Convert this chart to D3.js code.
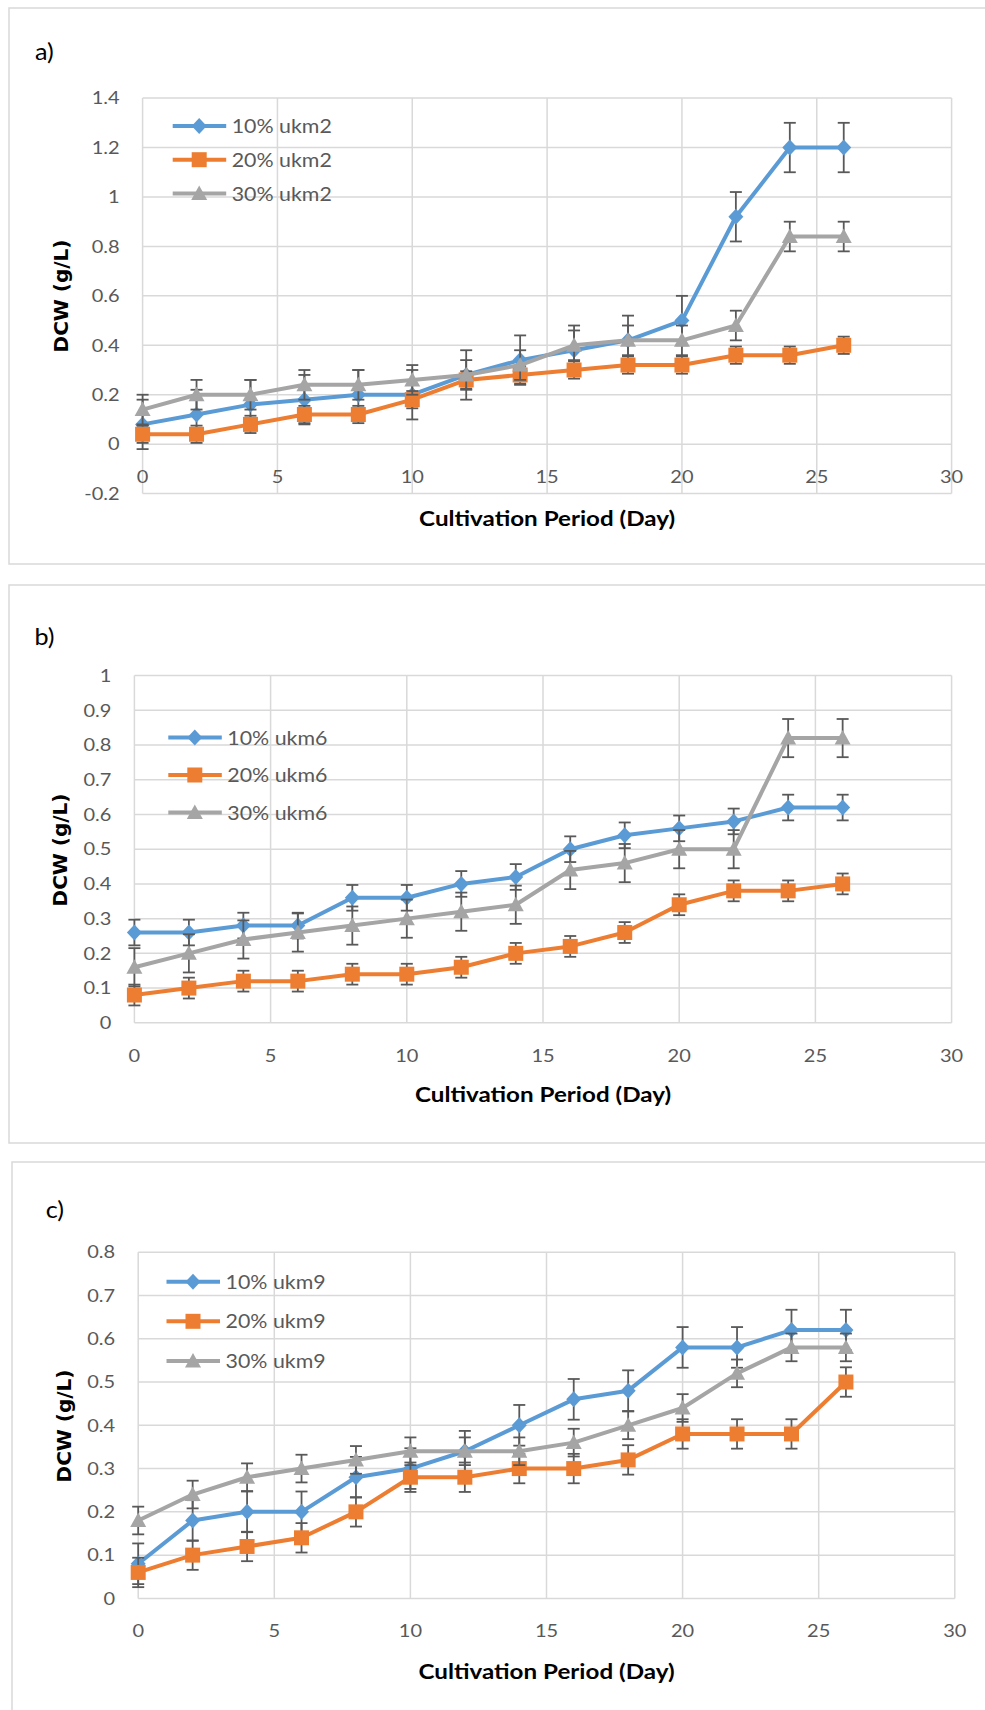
<!DOCTYPE html>
<html>
<head>
<meta charset="utf-8">
<script src="https://cdn.jsdelivr.net/npm/d3@7"></script>
<style>
  body { margin: 0; background: #fff; }
  svg { display: block; }
</style>
</head>
<body>
<div id="parent"></div>
<script>
const days = [0, 2, 4, 6, 8, 10, 12, 14, 16, 18, 20, 22, 24, 26];
const xTicks = [0, 5, 10, 15, 20, 25, 30];

// a) ukm2
const ukm2Names = ["10% ukm2", "20% ukm2", "30% ukm2"];
const ukm2_10 = [0.08, 0.12, 0.16, 0.18, 0.20, 0.20, 0.28, 0.34, 0.38, 0.42, 0.50, 0.92, 1.20, 1.20];
const ukm2_20 = [0.04, 0.04, 0.08, 0.12, 0.12, 0.18, 0.26, 0.28, 0.30, 0.32, 0.32, 0.36, 0.36, 0.40];
const ukm2_30 = [0.14, 0.20, 0.20, 0.24, 0.24, 0.26, 0.28, 0.32, 0.40, 0.42, 0.42, 0.48, 0.84, 0.84];
const ukm2Err = [0.10, 0.035, 0.06];
const ukm2YTicks = [-0.2, 0, 0.2, 0.4, 0.6, 0.8, 1, 1.2, 1.4];

// b) ukm6
const ukm6Names = ["10% ukm6", "20% ukm6", "30% ukm6"];
const ukm6_10 = [0.26, 0.26, 0.28, 0.28, 0.36, 0.36, 0.40, 0.42, 0.50, 0.54, 0.56, 0.58, 0.62, 0.62];
const ukm6_20 = [0.08, 0.10, 0.12, 0.12, 0.14, 0.14, 0.16, 0.20, 0.22, 0.26, 0.34, 0.38, 0.38, 0.40];
const ukm6_30 = [0.16, 0.20, 0.24, 0.26, 0.28, 0.30, 0.32, 0.34, 0.44, 0.46, 0.50, 0.50, 0.82, 0.82];
const ukm6Err = [0.037, 0.03, 0.055];
const ukm6YTicks = [0, 0.1, 0.2, 0.3, 0.4, 0.5, 0.6, 0.7, 0.8, 0.9, 1];

// c) ukm9
const ukm9Names = ["10% ukm9", "20% ukm9", "30% ukm9"];
const ukm9_10 = [0.08, 0.18, 0.20, 0.20, 0.28, 0.30, 0.34, 0.40, 0.46, 0.48, 0.58, 0.58, 0.62, 0.62];
const ukm9_20 = [0.06, 0.10, 0.12, 0.14, 0.20, 0.28, 0.28, 0.30, 0.30, 0.32, 0.38, 0.38, 0.38, 0.50];
const ukm9_30 = [0.18, 0.24, 0.28, 0.30, 0.32, 0.34, 0.34, 0.34, 0.36, 0.40, 0.44, 0.52, 0.58, 0.58];
const ukm9Err = [0.047, 0.034, 0.032];
const ukm9YTicks = [0, 0.1, 0.2, 0.3, 0.4, 0.5, 0.6, 0.7, 0.8];

const colors = ["#5B9BD5", "#ED7D31", "#A5A5A5"];
const shapes = ["diamond", "square", "triangle"];
const grid = "#D9D9D9";
const txt = "#595959";

const panels = [
  { tag: "a)", names: ukm2Names, series: [ukm2_10, ukm2_20, ukm2_30], err: ukm2Err, yTicks: ukm2YTicks,
    frame: [9, 8, 1000, 556], plot: { l: 142.6, r: 951.6, t: 98.1, b: 493.6 },
    tagPos: [35, 60], yTitle: [61, 296], xTitleY: 518, legend: { x: 172.7, y: 126, dy: 33.7 } },
  { tag: "b)", names: ukm6Names, series: [ukm6_10, ukm6_20, ukm6_30], err: ukm6Err, yTicks: ukm6YTicks,
    frame: [9, 585, 1000, 558], plot: { l: 134.4, r: 951.6, t: 675.6, b: 1022.8 },
    tagPos: [34.5, 644.5], yTitle: [60, 850], xTitleY: 1094, legend: { x: 168.3, y: 737.4, dy: 37.6 } },
  { tag: "c)", names: ukm9Names, series: [ukm9_10, ukm9_20, ukm9_30], err: ukm9Err, yTicks: ukm9YTicks,
    frame: [12, 1162, 1000, 600], plot: { l: 138.2, r: 954.8, t: 1252.2, b: 1598.4 },
    tagPos: [45.7, 1218], yTitle: [63.5, 1426], xTitleY: 1671, legend: { x: 166.5, y: 1281.7, dy: 39.6 } }
];

const svg = d3.select("#parent").append("svg").attr("width", 985).attr("height", 1710);
svg.append("rect").attr("width", 985).attr("height", 1710).attr("fill", "#fff");

function markerPath(shape) {
  if (shape == "diamond") return "M0,-8L7.5,0L0,8L-7.5,0Z";
  if (shape == "square") return "M-7.5,-7.5H7.5V7.5H-7.5Z";
  return "M0,-8L8,6.5H-8Z";
}

// Lato text, widened a bit to look like the stretched Calibri of the original
function label(g, x, y, str, size, anchor, weight, color, k) {
  return g.append("text")
    .attr("transform", `translate(${x},${y}) scale(${k || 1.15},1)`)
    .attr("text-anchor", anchor)
    .attr("dy", "0.36em")
    .style("font-family", "Lato, 'Open Sans', sans-serif")
    .style("font-size", size + "px")
    .style("font-weight", weight || 400)
    .style("fill", color || txt)
    .text(str);
}

function fmt(v) { return String(+v.toFixed(1)); }

function drawPanel(p) {
  const g = svg.append("g");
  g.append("rect")
    .attr("x", p.frame[0]).attr("y", p.frame[1]).attr("width", p.frame[2]).attr("height", p.frame[3])
    .attr("fill", "none").attr("stroke", grid).attr("stroke-width", 1.5);

  const x = d3.scaleLinear().domain([0, 30]).range([p.plot.l, p.plot.r]);
  const y = d3.scaleLinear().domain(d3.extent(p.yTicks)).range([p.plot.b, p.plot.t]);

  // gridlines
  g.append("g").selectAll("line").data(p.yTicks).enter().append("line")
    .attr("x1", p.plot.l).attr("x2", p.plot.r)
    .attr("y1", d => y(d)).attr("y2", d => y(d))
    .attr("stroke", grid).attr("stroke-width", 1.5);
  g.append("g").selectAll("line").data(xTicks).enter().append("line")
    .attr("x1", d => x(d)).attr("x2", d => x(d))
    .attr("y1", p.plot.t).attr("y2", p.plot.b)
    .attr("stroke", grid).attr("stroke-width", 1.5);

  // tick labels
  p.yTicks.forEach(t => label(g, p.plot.l - 23, y(t), fmt(t), 17.4, "end"));
  xTicks.forEach(t => label(g, x(t), y(0) + 32.5, String(t), 17.4, "middle"));

  // titles
  label(g, (p.plot.l + p.plot.r) / 2, p.xTitleY, "Cultivation Period (Day)", 21.6, "middle", 700, "#000", 1.12);
  g.append("text")
    .attr("transform", `translate(${p.yTitle[0]},${p.yTitle[1]}) rotate(-90)`)
    .attr("text-anchor", "middle").attr("dy", "0.36em")
    .style("font-family", "'DejaVu Sans', Verdana, sans-serif")
    .style("font-size", "20px").style("font-weight", 700).style("fill", "#000")
    .text("DCW (g/L)");
  g.append("text")
    .attr("transform", `translate(${p.tagPos[0]},${p.tagPos[1]}) scale(1.05,1)`)
    .style("font-family", "Lato, sans-serif").style("font-size", "24px").style("fill", "#000")
    .text(p.tag);

  const line = d3.line().x((d, i) => x(days[i])).y(d => y(d));

  p.series.forEach((vals, s) => {
    const sg = g.append("g");
    const e = p.err[s];
    const bars = sg.append("g").selectAll("g").data(vals).enter().append("g")
      .attr("stroke", "#595959").attr("stroke-width", 1.8);
    bars.append("line")
      .attr("x1", (d, i) => x(days[i])).attr("x2", (d, i) => x(days[i]))
      .attr("y1", d => y(d - e)).attr("y2", d => y(d + e));
    bars.append("line")
      .attr("x1", (d, i) => x(days[i]) - 6).attr("x2", (d, i) => x(days[i]) + 6)
      .attr("y1", d => y(d + e)).attr("y2", d => y(d + e));
    bars.append("line")
      .attr("x1", (d, i) => x(days[i]) - 6).attr("x2", (d, i) => x(days[i]) + 6)
      .attr("y1", d => y(d - e)).attr("y2", d => y(d - e));

    sg.append("path").datum(vals)
      .attr("d", line).attr("fill", "none")
      .attr("stroke", colors[s]).attr("stroke-width", 4).attr("stroke-linejoin", "round");

    sg.append("g").selectAll("path").data(vals).enter().append("path")
      .attr("transform", (d, i) => `translate(${x(days[i])},${y(d)})`)
      .attr("d", markerPath(shapes[s]))
      .attr("fill", colors[s]);
  });

  // legend
  p.names.forEach((name, s) => {
    const ly = p.legend.y + s * p.legend.dy;
    g.append("line")
      .attr("x1", p.legend.x).attr("x2", p.legend.x + 53.5)
      .attr("y1", ly).attr("y2", ly)
      .attr("stroke", colors[s]).attr("stroke-width", 4);
    g.append("path")
      .attr("transform", `translate(${p.legend.x + 26.5},${ly})`)
      .attr("d", markerPath(shapes[s])).attr("fill", colors[s]);
    label(g, p.legend.x + 59, ly, name, 19.8, "start", 400, txt, 1.08);
  });
}

panels.forEach(drawPanel);
</script>
</body>
</html>
